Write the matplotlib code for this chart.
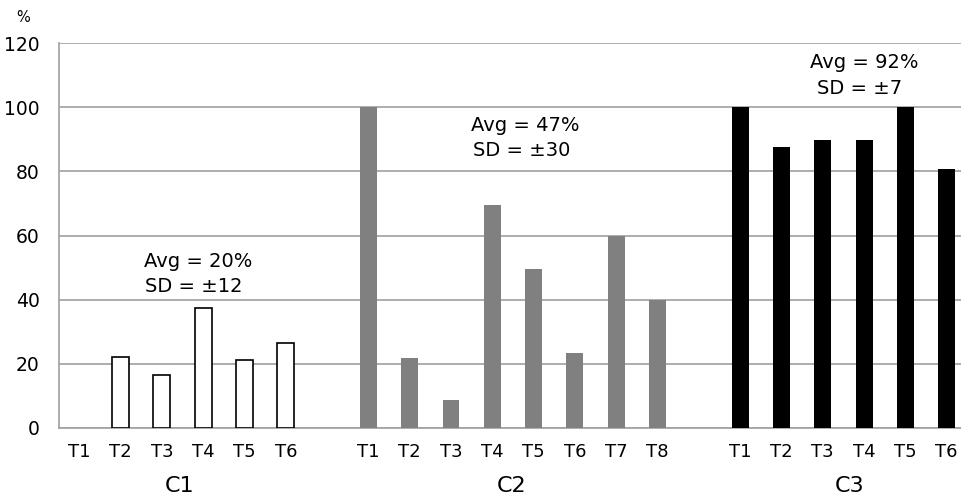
import matplotlib.pyplot as plt

# --- data ---
c1_labels = ["T1", "T2", "T3", "T4", "T5", "T6"]
c1_values = [0, 22, 16.5, 37.4, 21.3, 26.4]

c2_labels = ["T1", "T2", "T3", "T4", "T5", "T6", "T7", "T8"]
c2_values = [100, 21.9, 8.8, 69.6, 49.6, 23.5, 59.8, 39.8]

c3_labels = ["T1", "T2", "T3", "T4", "T5", "T6"]
c3_values = [100, 87.6, 89.7, 89.7, 100, 80.7]

group_names = ["C1", "C2", "C3"]
group_stats = [("Avg = 20%", "SD = \u00b112"),
               ("Avg = 47%", "SD = \u00b130"),
               ("Avg = 92%", "SD = \u00b17")]

# --- layout ---
fig = plt.figure(figsize=(9.62, 4.99), dpi=100)
ax = fig.add_axes([0.0613, 0.1423, 0.9387, 0.7715])

grid_col = "#a0a0a0"
bar_w = 0.41

x1 = list(range(0, 6))
x2 = list(range(7, 15))
x3 = list(range(16, 22))

ax.bar(x1, c1_values, width=bar_w, color="white", edgecolor="black",
       linewidth=[1.2 if v > 0 else 0 for v in c1_values], zorder=3)
ax.bar(x2, c2_values, width=bar_w, color="#808080", linewidth=0, zorder=3)
ax.bar(x3, c3_values, width=bar_w, color="black", linewidth=0, zorder=3)

ax.set_xlim(-0.49, 21.37)
ax.set_ylim(0, 120)
ax.set_yticks(range(0, 121, 20))
ax.yaxis.grid(True, color=grid_col, linewidth=1.2, zorder=0)
ax.set_axisbelow(True)

ax.set_xticks(x1 + x2 + x3)
ax.set_xticklabels(c1_labels + c2_labels + c3_labels)
ax.tick_params(axis="x", length=0, pad=11, labelsize=13, colors="black")
ax.tick_params(axis="y", length=0, pad=14, labelsize=13.5, colors="black")

for s in ["top", "right"]:
    ax.spines[s].set_visible(False)
ax.spines["left"].set_color(grid_col)
ax.spines["bottom"].set_color(grid_col)
ax.spines["left"].set_linewidth(1.2)
ax.spines["bottom"].set_linewidth(1.2)

# group labels under the tick labels
for xc, name in zip([2.44, 10.47, 18.65], group_names):
    ax.text(xc, -18, name, ha="center", va="center", fontsize=16,
            transform=ax.transData, clip_on=False)

# avg / sd annotations
ann_pos = [(2.87, 52.0, 44.2), (10.8, 94.4, 86.6), (19.0, 114.0, 105.9)]
for (xc, ya, ys), (avg, sd) in zip(ann_pos, group_stats):
    ax.text(xc, ya, avg, ha="center", va="center", fontsize=14)
    ax.text(xc - 0.1, ys, sd, ha="center", va="center", fontsize=14)

fig.text(23 / 962, 1 - 17 / 499, "%", ha="center", va="center", fontsize=10.5)

plt.savefig("out.png", dpi=100)
